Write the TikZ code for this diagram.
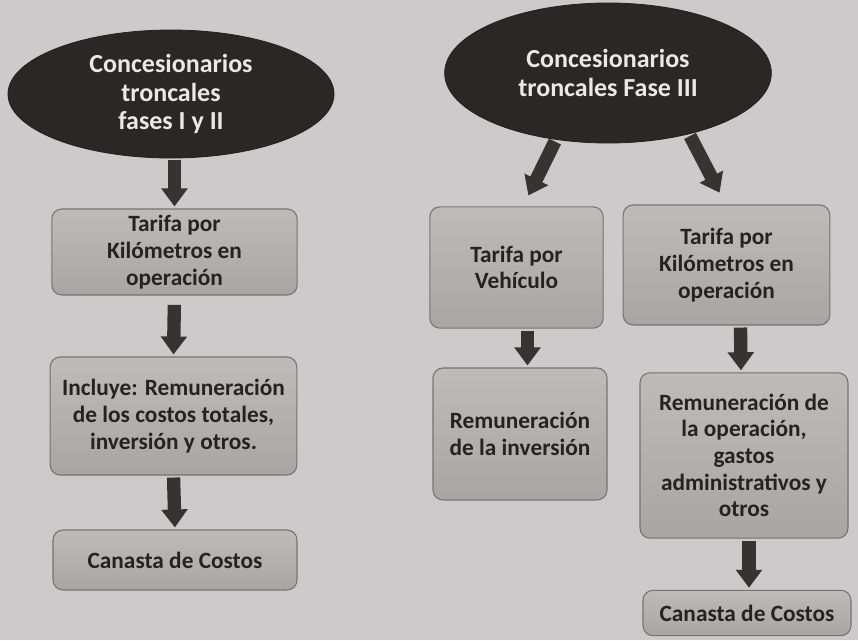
\documentclass[tikz,border=0pt]{standalone}
\usepackage{fontspec}
\setmainfont{Carlito}
\usetikzlibrary{shapes.geometric,arrows.meta,calc}

\definecolor{paper}{RGB}{204,202,202}
\definecolor{ovalfill}{RGB}{44,39,39}
\definecolor{ovaltext}{RGB}{236,232,232}
\definecolor{boxtop}{RGB}{190,187,187}
\definecolor{boxbottom}{RGB}{168,165,165}
\definecolor{boxline}{RGB}{118,115,115}
\definecolor{boxtext}{RGB}{38,34,34}
\definecolor{arrowgray}{RGB}{56,51,51}

\begin{document}
\begin{tikzpicture}[x=0.75pt,y=0.75pt,yscale=-1,xscale=1,
    oval/.style={ellipse, fill=ovalfill, draw=ovalfill!80!black, line width=0.6pt,
        text=ovaltext, align=center, inner sep=0pt,
        font=\fontsize{19.5}{21.5}\selectfont\bfseries},
    tarifa/.style={rectangle, rounded corners=7.5pt, draw=boxline, line width=0.8pt,
        top color=boxtop, bottom color=boxbottom, text=boxtext, align=center,
        inner sep=0pt, font=\fontsize{17.5}{20}\selectfont\bfseries},
    bigarrow/.style={draw=arrowgray, line width=10pt,
        -{Triangle[width=19pt,length=13.5pt]}, shorten <=1.5pt, shorten >=1.5pt}]
        %uncomment if require: \path (0,640); %set diagram left start at 0, and has height of 640

        % Background
        \fill [paper] (0,0) rectangle (858,640) ;

        % Shape: Ellipse, fases I y II
        \node [oval, minimum width=244.5pt, minimum height=96pt] (fasesUno) at (171,94)
            {Concesionarios\\troncales\\fases I y II};
        % Shape: Ellipse, fase III
        \node [oval, minimum width=245pt, minimum height=105pt] (faseTres) at (608,73)
            {Concesionarios\\troncales Fase III};

        % Left column
        \node [tarifa, minimum width=184pt, minimum height=64.5pt] (kmUno) at (174.5,252)
            {Tarifa por\\Kilómetros en\\operación};
        \node [tarifa, minimum width=185pt, minimum height=88.5pt] (incluye) at (173.5,416)
            {Incluye: Remuneración\\de los costos totales,\\inversión y otros.};
        \node [tarifa, minimum width=183pt, minimum height=45pt] (canastaUno) at (175,560)
            {Canasta de Costos};

        % Right column, vehiculo
        \node [tarifa, minimum width=130pt, minimum height=91pt] (vehiculo) at (516.5,267.5)
            {Tarifa por\\Vehículo};
        \node [tarifa, minimum width=130.5pt, minimum height=99pt] (inversion) at (520,434)
            {Remuneración\\de la inversión};

        % Right column, kilometros
        \node [tarifa, minimum width=155pt, minimum height=90pt] (kmTres) at (726.5,265)
            {Tarifa por\\Kilómetros en\\operación};
        \node [tarifa, minimum width=156pt, minimum height=124pt] (operacion) at (744,455.5)
            {Remuneración de\\la operación,\\gastos\\administrativos y\\otros};
        \node [tarifa, minimum width=156pt, minimum height=34pt] (canastaTres) at (747,613)
            {Canasta de Costos};

        % Arrows
        \draw [bigarrow] (fasesUno.south -| kmUno.north) -- (kmUno.north) ;
        \draw [bigarrow, shorten <=7pt] (kmUno.south) -- (incluye.north) ;
        \draw [bigarrow] (incluye.south) -- (canastaUno.north) ;
        \draw [bigarrow] (faseTres.232) -- ($(vehiculo.north)+(11,-9)$) ;
        \draw [bigarrow] (faseTres.323) -- ($(kmTres.north)+(-6,-10)$) ;
        \draw [bigarrow] ($(vehiculo.south)+(11,0)$) -- ($(inversion.north)+(7.5,0)$) ;
        \draw [bigarrow] ($(kmTres.south)+(14,0)$) -- ($(operacion.north)+(-3,0)$) ;
        \draw [bigarrow] ($(operacion.south)+(5,0)$) -- ($(canastaTres.north)+(2,0)$) ;
\end{tikzpicture}
\end{document}
